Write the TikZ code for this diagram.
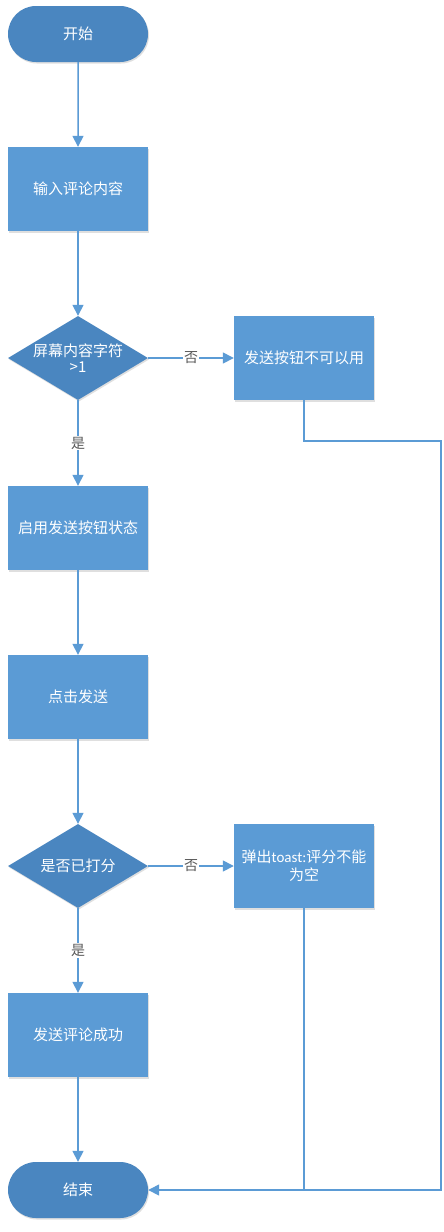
\documentclass[tikz,border=0pt]{standalone}
\usepackage{fontspec}
\setmainfont{Noto Sans CJK SC}
\newfontfamily\latinnarrow{Carlito}
\usetikzlibrary{arrows.meta,shapes.geometric,shapes.misc,shadows}
\definecolor{boxblue}{HTML}{5B9BD5}
\definecolor{darkblue}{HTML}{4A86C0}
\definecolor{lineblue}{HTML}{5B9BD5}
\definecolor{labelgray}{HTML}{595959}
\begin{document}
\begin{tikzpicture}[x=1pt,y=-1pt,
  every node/.style={font=\fontsize{15}{18}\selectfont, text=white},
  procbox/.style={draw=none, fill=boxblue, minimum width=140pt, minimum height=84pt, inner sep=2pt, align=center,
    drop shadow={shadow xshift=1pt, shadow yshift=-1.5pt, opacity=0.25}},
  term/.style={draw=none, fill=darkblue, rounded rectangle, minimum width=140pt, minimum height=56pt, inner sep=0pt,
    drop shadow={shadow xshift=1pt, shadow yshift=-1.5pt, opacity=0.25}},
  decision/.style={draw=none, fill=darkblue, diamond, aspect=1.6667, minimum width=140pt, minimum height=84pt, inner sep=0pt,
    drop shadow={shadow xshift=1pt, shadow yshift=-1.5pt, opacity=0.25}},
  dtext/.style={align=center, inner sep=0pt},
  conn/.style={draw=lineblue, line width=1.5pt, -{Triangle[length=11pt,width=11pt]}},
  plain/.style={draw=lineblue, line width=1.5pt},
  lbl/.style={fill=white, text=labelgray, inner sep=1pt, font=\fontsize{14}{16}\selectfont}
]
\useasboundingbox (0,0) rectangle (444,1232);
\fill[white] (0,0) rectangle (444,1232);

\node[term] (start) at (78,34) {开始};
\node[procbox] (input) at (78,189) {输入评论内容};
\node[decision] (d1) at (78,358) {};
\node[dtext] (d1t) at (d1.center) {屏幕内容字符\\[-2pt]>1};
\node[procbox] (disabled) at (304,358) {发送按钮不可以用};
\node[procbox] (enable) at (78,528) {启用发送按钮状态};
\node[procbox] (click) at (78,697) {点击发送};
\node[decision] (d2) at (78,866) {};
\node[dtext] (d2t) at (d2.center) {是否已打分};
\node[procbox] (toast) at (304,866) {弹出{\latinnarrow toast:}评分不能\\为空};
\node[procbox] (success) at (78,1035) {发送评论成功};
\node[term] (end) at (78,1190) {结束};

\coordinate (c1) at (304,441);
\coordinate (c2) at (441,441);
\coordinate (c3) at (441,1190);
\coordinate (c4) at (304,1190);

\draw[conn] (start) -- (input);
\draw[conn] (input) -- (d1);
\draw[conn] (d1) -- node[lbl] {否} (disabled);
\draw[conn] (d1) -- node[lbl] {是} (enable);
\draw[conn] (enable) -- (click);
\draw[conn] (click) -- (d2);
\draw[conn] (d2) -- node[lbl] {否} (toast);
\draw[conn] (d2) -- node[lbl] {是} (success);
\draw[conn] (success) -- (end);
\draw[plain] (disabled.south) -- (c1) -- (c2) -- (c3) -- (c4);
\draw[plain] (toast.south) -- (c4);
\draw[conn] (c3) -- (end.east);
\end{tikzpicture}
\end{document}
